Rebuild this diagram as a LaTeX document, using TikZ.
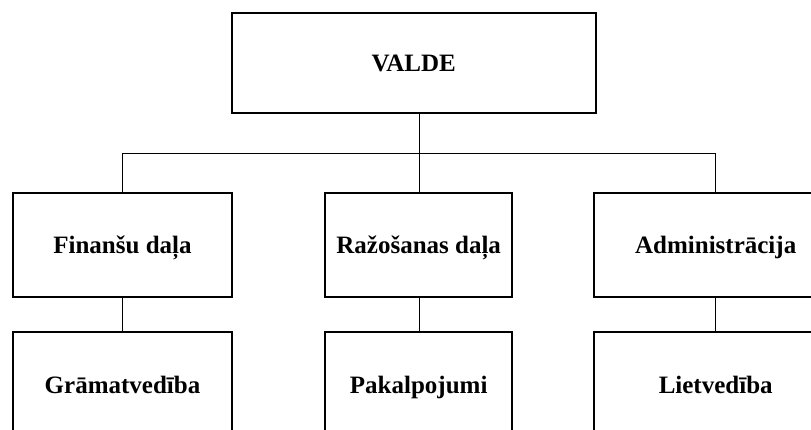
\documentclass[tikz,border=0pt]{standalone}
\usepackage{fontspec}
\setmainfont{Liberation Serif}

\tikzset{
  box/.style={draw=black, line width=2pt, fill=white, inner sep=0pt,
    text height=18pt, text depth=0pt,
    font=\fontsize{25}{29}\selectfont\bfseries},
  conn/.style={draw=black, line width=1pt}
}

\begin{document}
\begin{tikzpicture}[x=1pt,y=-1pt]

\clip (0,0) rectangle (811,430);

% top
\node[box, minimum width=364pt, minimum height=100.6pt] (valde) at (413.7,63) {VALDE};

% departments
\node[box, minimum width=219.6pt, minimum height=104.6pt] (finansu)   at (122.5,245) {Finanšu daļa};
\node[box, minimum width=187.3pt, minimum height=104.6pt] (razosana)  at (418.7,245) {Ražošanas daļa};
\node[box, minimum width=243pt,   minimum height=104.6pt] (admin)     at (715.7,245) {Administrācija};

% units
\node[box, minimum width=219.6pt, minimum height=105pt] (gramat)  at (122.5,384.5) {Grāmatvedība};
\node[box, minimum width=187.3pt, minimum height=105pt] (pakalp)  at (418.7,384.5) {Pakalpojumi};
\node[box, minimum width=243pt,   minimum height=105pt] (lietved) at (715.7,384.5) {Lietvedība};

\coordinate (bus) at (419.3,153.7);

\draw[conn] (valde.south -| bus) -- (bus);
\draw[conn] (finansu.north) |- (bus) -| (admin.north);
\draw[conn] (bus) -- (razosana.north -| bus);

\draw[conn] (finansu) -- (gramat);
\draw[conn] (razosana.south -| bus) -- (pakalp.north -| bus);
\draw[conn] (admin) -- (lietved);

\end{tikzpicture}
\end{document}
